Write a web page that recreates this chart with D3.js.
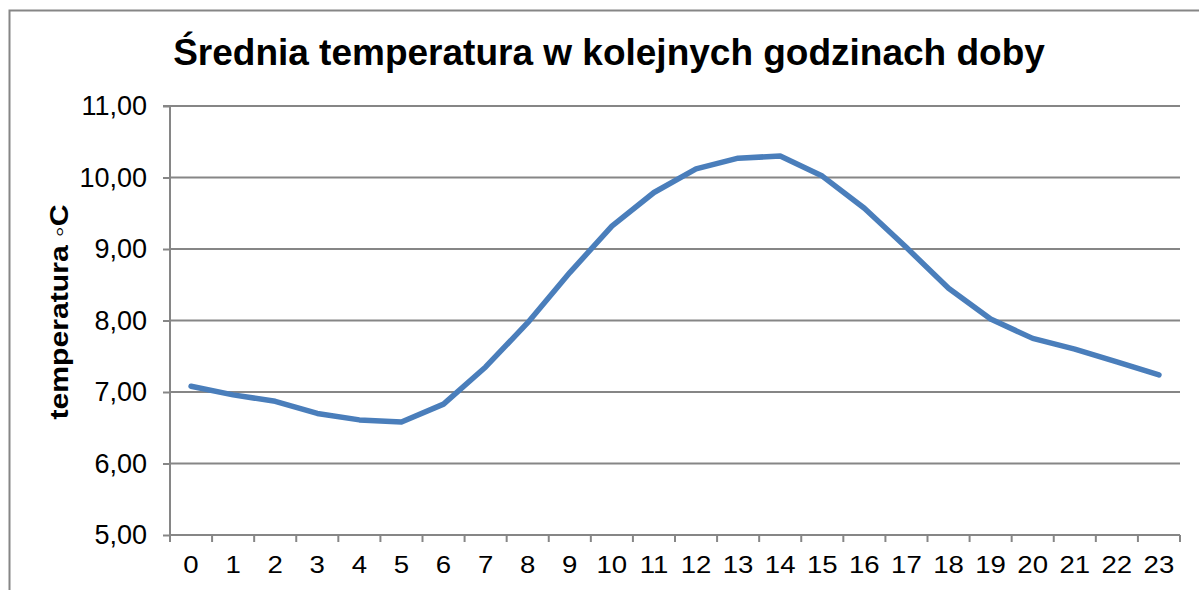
<!DOCTYPE html>
<html>
<head>
<meta charset="utf-8">
<script src="https://cdn.jsdelivr.net/npm/d3@7"></script>
<style>
html,body{margin:0;padding:0;background:#fff;}
svg{display:block;}
text{font-family:"Liberation Sans",Arial,sans-serif;fill:#000;}
</style>
</head>
<body>
<svg id="chart" width="1199" height="590"></svg>
<script>
const hours = ["0","1","2","3","4","5","6","7","8","9","10","11","12","13","14","15","16","17","18","19","20","21","22","23"];
const temperature = [7.08,6.96,6.87,6.70,6.61,6.58,6.83,7.35,7.97,8.67,9.32,9.79,10.12,10.27,10.30,10.02,9.57,9.02,8.45,8.02,7.75,7.60,7.42,7.24];
const yTicks = [5,6,7,8,9,10,11];
const titleText = "Średnia temperatura w kolejnych godzinach doby";
const yLabel = "temperatura ◦C";

const svg = d3.select("#chart");
const m = {left:170, right:19, top:106, bottom:55};
const W = 1199, H = 590;

// outer border
svg.append("rect").attr("x",9.5).attr("y",10.5).attr("width",1199).attr("height",600)
  .attr("fill","none").attr("stroke","#868686").attr("stroke-width",2);

const x = d3.scaleBand().domain(hours).range([m.left, W - m.right]);
const y = d3.scaleLinear().domain([5,11]).range([H - m.bottom, m.top]);

// gridlines
svg.append("g").selectAll("line").data(yTicks.filter(d=>d>5)).join("line")
  .attr("x1", m.left).attr("x2", W - m.right)
  .attr("y1", d=>y(d)).attr("y2", d=>y(d))
  .attr("stroke","#868686").attr("stroke-width",2);

// y axis
const yAxis = d3.axisLeft(y).tickValues(yTicks).tickSize(7).tickPadding(16)
  .tickFormat(d => d3.format(".2f")(d).replace(".", ","));
const gy = svg.append("g").attr("transform",`translate(${m.left},0)`).call(yAxis);
gy.select(".domain").attr("stroke","#868686").attr("stroke-width",2).attr("d",`M-7,${y(11)}H0V${y(5)}`);
gy.selectAll(".tick line").attr("stroke","#868686").attr("stroke-width",2);
gy.selectAll(".tick text").attr("font-size",27).attr("font-family","Liberation Sans, Arial, sans-serif").attr("fill","#000");

// x axis
const xAxis = d3.axisBottom(x).tickSize(0).tickPadding(22);
const gx = svg.append("g").attr("transform",`translate(0,${y(5)})`).call(xAxis);
gx.select(".domain").attr("stroke","#868686").attr("stroke-width",2).attr("d",`M${m.left},0H${W-m.right}`);
gx.selectAll(".tick text").attr("font-size",23).attr("font-family","Liberation Sans, Arial, sans-serif")
  .attr("fill","#000").attr("transform","scale(1.2,1)");
// category boundary ticks
const bounds = hours.map(h => x(h)).concat([W - m.right]);
svg.append("g").selectAll("line").data(bounds).join("line")
  .attr("x1", d=>d).attr("x2", d=>d)
  .attr("y1", y(5)).attr("y2", y(5)+7)
  .attr("stroke","#868686").attr("stroke-width",2);

// line
const line = d3.line()
  .x((d,i) => x(hours[i]) + x.bandwidth()/2)
  .y(d => y(d));
svg.append("path").datum(temperature)
  .attr("d", line)
  .attr("fill","none").attr("stroke","#4a7ebb").attr("stroke-width",5.5)
  .attr("stroke-linejoin","round").attr("stroke-linecap","round");

// title
svg.append("text").attr("x",609).attr("y",65).attr("text-anchor","middle")
  .attr("font-size",37).attr("font-weight","bold").text(titleText);

// y label
svg.append("text").attr("transform","translate(68,312) rotate(-90) scale(1.16,1)")
  .attr("text-anchor","middle").attr("font-size",26).attr("font-weight","bold").text(yLabel);
</script>
</body>
</html>
